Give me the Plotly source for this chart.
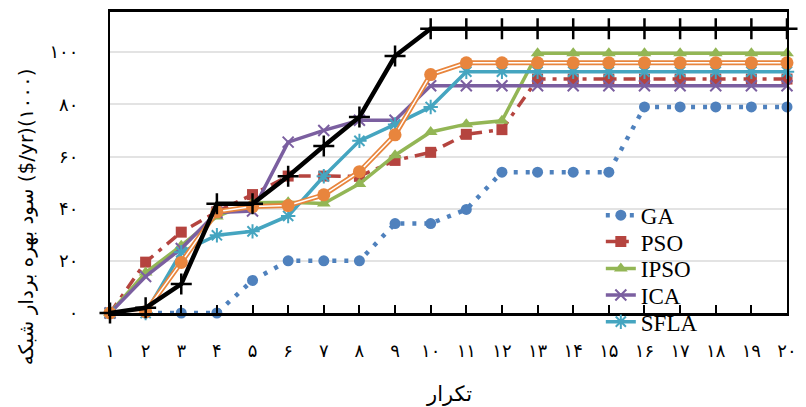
import plotly.graph_objects as go

# Iteration index and Persian tick labels
iterations = list(range(1, 21))
iteration_labels = ["۱", "۲", "۳", "۴", "۵", "۶", "۷", "۸", "۹", "۱۰",
                    "۱۱", "۱۲", "۱۳", "۱۴", "۱۵", "۱۶", "۱۷", "۱۸", "۱۹", "۲۰"]
y_tick_values = [0, 20, 40, 60, 80, 100]
y_tick_labels = ["۰", "۲۰", "۴۰", "۶۰", "۸۰", "۱۰۰"]

# Operator profit (thousand $/yr) per iteration for each algorithm
ga = [0, 0, 0, 0, 12.5, 20, 20, 20, 34.3, 34.3, 39.7, 54, 54, 54, 54, 79, 79, 79, 79, 79]
pso = [0, 19.5, 31, 38.8, 45.4, 52.5, 52.5, 52.4, 58.5, 61.6, 68.5, 70.3,
       89.7, 89.7, 89.7, 89.7, 89.7, 89.7, 89.7, 89.7]
ipso = [0, 15.5, 25.8, 37, 42.3, 42.5, 42, 49.5, 60.5, 69.4, 72.4, 73.7,
        99.6, 99.6, 99.6, 99.6, 99.6, 99.6, 99.6, 99.6]
ica = [0, 14, 24.7, 38.5, 39.1, 65.5, 70, 73.9, 73.9, 87.1,
       87.1, 87.1, 87.1, 87.1, 87.1, 87.1, 87.1, 87.1, 87.1, 87.1]
sfla = [0, 0, 23.3, 29.8, 31.3, 37.2, 52.4, 66, 72.3, 79, 92.5, 92.5,
        92.5, 92.5, 92.5, 92.5, 92.5, 92.5, 92.5, 92.5]
method6 = [0, 0.5, 19.4, 38.8, 40.8, 41.2, 45.3, 54.2, 68.3, 91.4, 95.9, 95.9,
           95.9, 95.9, 95.9, 95.9, 95.9, 95.9, 95.9, 95.9]
method7 = [0, 2, 11.1, 41.9, 41.9, 52.4, 64, 75.1, 98.5, 109,
           109, 109, 109, 109, 109, 109, 109, 109, 109, 109]

SERIF = "Liberation Serif, Times New Roman, serif"
PERSIAN = "DejaVu Sans, Noto Sans, sans-serif"

fig = go.Figure()

def add_series(y, name, color, dash, width, symbol, size, mline, legend=None):
    fig.add_trace(go.Scatter(
        x=iterations, y=y, name=name, mode="lines+markers",
        line=dict(color=color, width=width, dash=dash),
        marker=dict(symbol=symbol, size=size, color=color,
                    line=dict(color=color, width=mline)),
        cliponaxis=False,
        showlegend=legend is not None,
        legend=legend if legend else "legend",
    ))

add_series(ga, "GA", "#4f81bd", "4px,8px", 4.5, "circle", 11, 0, "legend")
add_series(pso, "PSO", "#b5443f", "12px,7px,4px,7px", 3.5, "square", 11, 0, "legend2")
add_series(ipso, "IPSO", "#93b655", "solid", 3.5, "triangle-up", 12, 0, "legend3")
add_series(ica, "ICA", "#7b5fa0", "solid", 3.5, "x-thin-open", 11, 2, "legend4")
add_series(sfla, "SFLA", "#45a5c0", "solid", 3.5, "asterisk-open", 12, 2, "legend5")

# Double-stroke orange series: outer orange, inner white, then markers
fig.add_trace(go.Scatter(x=iterations, y=method6, mode="lines", showlegend=False,
                         line=dict(color="#e8853d", width=5), cliponaxis=False))
fig.add_trace(go.Scatter(x=iterations, y=method6, mode="lines", showlegend=False,
                         line=dict(color="white", width=1.5), cliponaxis=False))
fig.add_trace(go.Scatter(x=iterations, y=method6, mode="markers", showlegend=False,
                         marker=dict(symbol="circle", size=13, color="#e8853d"),
                         cliponaxis=False))

add_series(method7, "method7", "#000000", "solid", 4.5, "cross-thin-open", 15, 2.5)

# One legend per entry so rows sit at their own heights
legend_rows = [("legend", 0.325), ("legend2", 0.237), ("legend3", 0.148),
               ("legend4", 0.0595), ("legend5", -0.029)]
legend_layout = {}
for key, ypos in legend_rows:
    legend_layout[key] = dict(
        x=0.725, y=ypos, xanchor="left", yanchor="middle",
        bgcolor="rgba(0,0,0,0)", borderwidth=0,
        font=dict(family=SERIF, size=23, color="black"),
    )

fig.update_layout(
    width=806, height=407,
    margin=dict(l=110, r=9, t=9, b=94),
    paper_bgcolor="white", plot_bgcolor="white",
    **legend_layout,
    xaxis=dict(
        range=[1, 20], tickmode="array", tickvals=iterations, ticktext=iteration_labels,
        showgrid=False, zeroline=False,
        showline=True, linecolor="black", linewidth=2.5, mirror=True,
        ticks="inside", ticklen=8, tickwidth=2, tickcolor="black",
        ticklabelstandoff=20,
        tickfont=dict(family=PERSIAN, size=18, color="black"),
    ),
    yaxis=dict(
        range=[0, 115.4], tickmode="array", tickvals=y_tick_values, ticktext=y_tick_labels,
        showgrid=True, gridcolor="#e3e3e3", gridwidth=2, zeroline=False,
        showline=True, linecolor="black", linewidth=2, mirror=True,
        ticks="", ticklabelstandoff=26,
        tickfont=dict(family=PERSIAN, size=18, color="black"),
    ),
    annotations=[
        dict(text="سود بهره بردار شبکه ($/yr)(۱۰۰۰)", xref="paper", yref="paper",
             x=-0.1237, y=0.319, xanchor="center", yanchor="middle", textangle=-90,
             showarrow=False, font=dict(family=PERSIAN, size=20, color="black")),
        dict(text="تکرار", xref="paper", yref="paper", x=0.5, y=-0.27,
             xanchor="center", yanchor="middle", showarrow=False,
             font=dict(family=PERSIAN, size=21, color="black")),
    ],
)

fig.write_html("out.html")
